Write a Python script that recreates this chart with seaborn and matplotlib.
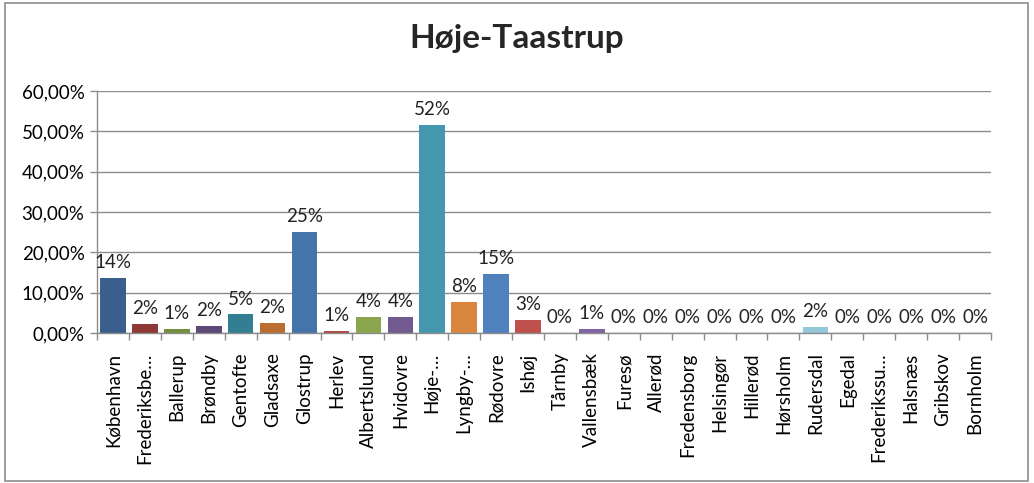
import numpy as np
import pandas as pd
import matplotlib
matplotlib.use("Agg")
import matplotlib.pyplot as plt
import seaborn as sns
from matplotlib.patches import Rectangle
from matplotlib.ticker import FuncFormatter, FixedLocator

# Data (share in percent)
municipalities = [
    "København", "Frederiksbe…", "Ballerup", "Brøndby", "Gentofte", "Gladsaxe",
    "Glostrup", "Herlev", "Albertslund", "Hvidovre", "Høje-…", "Lyngby-…",
    "Rødovre", "Ishøj", "Tårnby", "Vallensbæk", "Furesø", "Allerød",
    "Fredensborg", "Helsingør", "Hillerød", "Hørsholm", "Rudersdal", "Egedal",
    "Frederikssu…", "Halsnæs", "Gribskov", "Bornholm",
]
shares = [
    13.7, 2.2, 1.1, 1.7, 4.6, 2.4,
    25.0, 0.6, 3.9, 3.9, 51.6, 7.7,
    14.6, 3.3, 0.0, 1.0, 0.0, 0.0,
    0.0, 0.0, 0.0, 0.0, 1.6, 0.0,
    0.0, 0.0, 0.0, 0.0,
]
bar_colors = [
    "#3A5F8D", "#8E3937", "#74903F", "#5D4878", "#347E93", "#BB6E30",
    "#4673A9", "#B04845", "#8BA54F", "#72598F", "#4398B0", "#DB863F",
    "#4F81BD", "#C0504D", "#9BBB59", "#8064A2", "#4BACC6", "#F79646",
    "#7F9FCF", "#D17F7D", "#B3CC82", "#A08DBD", "#93C7D9", "#F9B07A",
    "#A9BEDF", "#E0A9A8", "#CCDDAD", "#BFB1D1",
]

title = "Høje-Taastrup"

df = pd.DataFrame({"kommune": municipalities, "andel": shares})

sns.set_theme(style="white")
plt.rcParams["font.family"] = ["Lato", "DejaVu Sans"]

fig = plt.figure(figsize=(10.34, 4.83), dpi=100)
ax = fig.add_axes([97 / 1034, 150 / 483, 894 / 1034, 242 / 483])

sns.barplot(data=df, x="kommune", y="andel", hue="kommune",
            palette=bar_colors[:len(municipalities)], legend=False,
            width=0.8, ax=ax, saturation=1, linewidth=0)

ax.set_ylim(0, 60)
ax.set_xlim(-0.5, len(municipalities) - 0.5)
ax.set_yticks(np.arange(0, 61, 10))
ax.yaxis.set_major_formatter(FuncFormatter(lambda v, p: f"{v:.2f}%".replace(".", ",")))
ax.yaxis.grid(True, color="#8c8c8c", linewidth=1)
ax.set_axisbelow(True)
ax.set_xlabel("")
ax.set_ylabel("")

# category boundary tick marks
ax.xaxis.set_minor_locator(FixedLocator(np.arange(-0.5, len(municipalities), 1)))
ax.tick_params(axis="x", which="major", length=0, pad=14, labelsize=13.5, rotation=90,
               labelcolor="black")
ax.tick_params(axis="x", which="minor", length=5, color="#8c8c8c", width=1, bottom=True)
ax.tick_params(axis="y", length=5, color="#8c8c8c", width=1, left=True, labelsize=13.5,
               pad=4, labelcolor="black")

for side in ["top", "right"]:
    ax.spines[side].set_visible(False)
for side in ["left", "bottom"]:
    ax.spines[side].set_color("#8c8c8c")
    ax.spines[side].set_linewidth(1)

for i, v in enumerate(shares):
    ax.annotate(f"{v:.0f}%", (i, v), xytext=(0, 5), textcoords="offset points",
                ha="center", va="bottom", fontsize=13.5, color="#222222")

fig.suptitle(title, x=0.5, y=0.95, fontsize=24, fontweight="bold")

fig.patches.append(Rectangle((5 / 1034, 2 / 483), 1023 / 1034, 478 / 483,
                             transform=fig.transFigure, fill=False,
                             edgecolor="#8c8c8c", linewidth=1.2))

fig.savefig("out.png", dpi=100)
